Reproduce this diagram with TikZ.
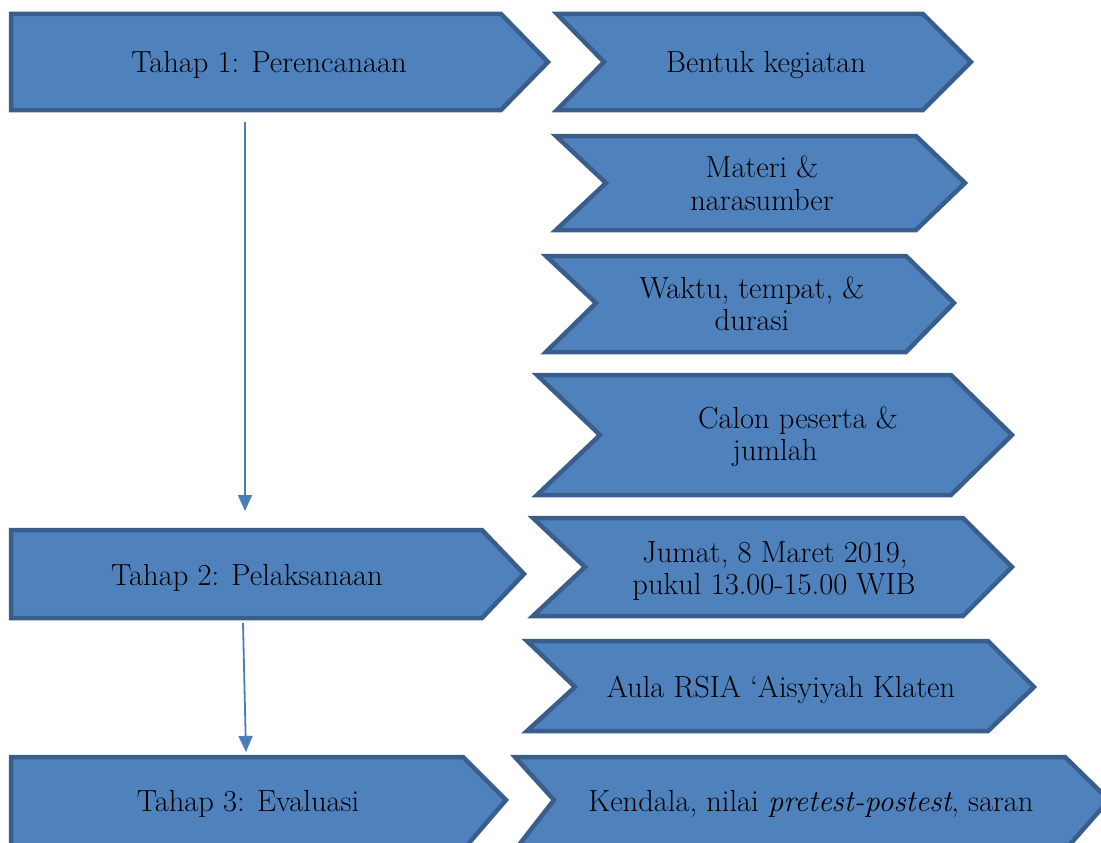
\documentclass[tikz,border=0pt]{standalone}
\usetikzlibrary{arrows.meta}
\definecolor{blkfill}{HTML}{4F81BD}
\definecolor{blkdraw}{HTML}{3A5E8C}
\definecolor{arr}{HTML}{4A7EBB}
\begin{document}
\begin{tikzpicture}[x=1pt,y=-1pt,
  blk/.style={fill=blkfill,draw=blkdraw,line width=4.5pt,line join=miter},
  lbl/.style={anchor=base,inner sep=0pt,font=\fontsize{30.5}{35}\selectfont},
  conn/.style={draw=arr,line width=1.8pt,-{Triangle[width=14pt,length=16pt]}}]
\useasboundingbox (0,0) rectangle (1101,843);
\clip (0,0) rectangle (1101,843);
% left stage boxes
\path[blk] (11,14) -- (501,14) -- (548,62) -- (501,110) -- (11,110) -- cycle;
\path[blk] (11,530) -- (482,530) -- (524,574) -- (482,618) -- (11,618) -- cycle;
\path[blk] (11,757) -- (463,757) -- (506,800) -- (463,850) -- (11,850) -- cycle;
% chevrons
\path[blk] (557,14) -- (923,14) -- (971,62) -- (923,110) -- (557,110) -- (604,62) -- cycle;
\path[blk] (556,136) -- (916,136) -- (965,183) -- (916,230) -- (556,230) -- (606,183) -- cycle;
\path[blk] (546,256) -- (906,256) -- (954,303) -- (906,352) -- (546,352) -- (596,303) -- cycle;
\path[blk] (537,375) -- (951,375) -- (1012,435) -- (951,495) -- (537,495) -- (600,435) -- cycle;
\path[blk] (533,518) -- (963,518) -- (1012,567) -- (963,616) -- (533,616) -- (585,567) -- cycle;
\path[blk] (527,641) -- (988,641) -- (1034,687) -- (988,731) -- (527,731) -- (575,687) -- cycle;
\path[blk] (515,757) -- (1065,757) -- (1109,800) -- (1065,850) -- (515,850) -- (554,800) -- cycle;
% labels
\node[lbl] (t1) at (269,73) {Tahap 1: Perencanaan};
\node[lbl] (t2) at (247,585) {Tahap 2: Pelaksanaan};
\node[lbl] (t3) at (248,811) {Tahap 3: Evaluasi};
\node[lbl] (a1) at (766,73) {Bentuk kegiatan};
\node[lbl] (a2) at (762,177) {Materi \&};
\node[lbl] (a2b) at (762,210) {narasumber};
\node[lbl] (a3) at (752,298) {Waktu, tempat, \&};
\node[lbl] (a3b) at (752,330) {durasi};
\node[lbl] (a4) at (798,428) {Calon peserta \&};
\node[lbl] (a4b) at (775,460) {jumlah};
\node[lbl] (b1) at (775,562) {Jumat, 8 Maret 2019,};
\node[lbl] (b1b) at (774,594) {pukul 13.00-15.00 WIB};
\node[lbl] (b2) at (781,697) {Aula RSIA `Aisyiyah Klaten};
\node[lbl] (c1) at (811,811) {Kendala, nilai \textit{pretest-postest}, saran};
% connectors
\coordinate (s1) at (245,122);
\coordinate (e1) at (245,511);
\coordinate (s2) at (243,623);
\coordinate (e2) at (246,752);
\draw[conn] (s1) -- (e1);
\draw[conn] (s2) -- (e2);
\end{tikzpicture}
\end{document}
